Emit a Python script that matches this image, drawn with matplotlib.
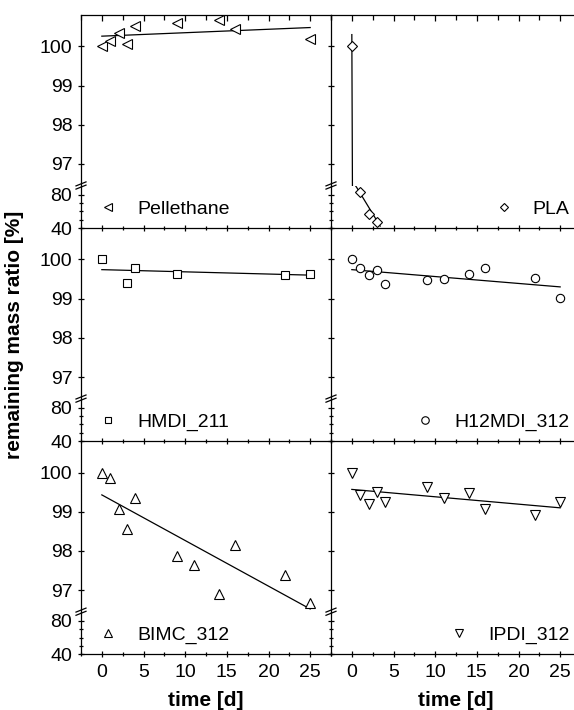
import matplotlib.pyplot as plt
import numpy as np
from matplotlib.lines import Line2D
from matplotlib.ticker import FixedLocator, MultipleLocator

plt.rcParams["font.family"] = ["Liberation Sans", "DejaVu Sans"]

# remaining mass ratio [%] over time [d]
pellethane_t = [0, 1, 2, 3, 4, 9, 14, 16, 25]
pellethane_m = [100.0, 100.13, 100.34, 100.06, 100.53, 100.6, 100.68, 100.45, 100.19]
pellethane_fit_t = [0, 25]
pellethane_fit_m = [100.26, 100.48]

pla_t = [0, 1, 2, 3]
pla_m = [100.0, 83.5, 57.0, 47.0]
pla_fit_t = [0, 0.08, 0.6, 3.4]
pla_fit_m = [100.3, 96.0, 88.4, 42.4]

hmdi_t = [0, 3, 4, 9, 22, 25]
hmdi_m = [100.0, 99.40, 99.77, 99.64, 99.60, 99.64]
hmdi_fit_t = [0, 25]
hmdi_fit_m = [99.74, 99.60]

h12mdi_t = [0, 1, 2, 3, 4, 9, 11, 14, 16, 22, 25]
h12mdi_m = [100.0, 99.77, 99.60, 99.74, 99.37, 99.47, 99.49, 99.63, 99.77, 99.52, 99.02]
h12mdi_fit_t = [0, 25]
h12mdi_fit_m = [99.74, 99.30]

bimc_t = [0, 1, 2, 3, 4, 9, 11, 14, 16, 22, 25]
bimc_m = [100.0, 99.85, 99.06, 98.55, 99.36, 97.88, 97.64, 96.90, 98.14, 97.39, 96.67]
bimc_fit_t = [0, 25]
bimc_fit_m = [99.43, 96.52]

ipdi_t = [0, 1, 2, 3, 4, 9, 11, 14, 16, 22, 25]
ipdi_m = [100.0, 99.44, 99.19, 99.51, 99.25, 99.62, 99.36, 99.49, 99.08, 98.91, 99.25]
ipdi_fit_t = [0, 25]
ipdi_fit_m = [99.57, 99.10]

panels = [
    ("Pellethane", "<", 7, pellethane_t, pellethane_m, pellethane_fit_t, pellethane_fit_m),
    ("PLA", "D", 5, pla_t, pla_m, pla_fit_t, pla_fit_m),
    ("HMDI_211", "s", 5.5, hmdi_t, hmdi_m, hmdi_fit_t, hmdi_fit_m),
    ("H12MDI_312", "o", 6, h12mdi_t, h12mdi_m, h12mdi_fit_t, h12mdi_fit_m),
    ("BIMC_312", "^", 7, bimc_t, bimc_m, bimc_fit_t, bimc_fit_m),
    ("IPDI_312", "v", 7, ipdi_t, ipdi_m, ipdi_fit_t, ipdi_fit_m),
]

W, H = 574, 710
FS = 14
LABEL_FS = 15
LEFT, COL_W = 81, 250
TOP, PANEL_H, UPPER_H = 15, 213.1, 170.5
LOWER_H = PANEL_H - UPPER_H
SPLIT = 92  # values above this go to the upper part of the broken axis

fig = plt.figure(figsize=(W / 100, H / 100), dpi=100)


def break_marks(x_px, y_px):
    for off in (-1.6, 1.6):
        fig.add_artist(Line2D(
            [(x_px - 5) / W, (x_px + 5) / W],
            [1 - (y_px + off + 2) / H, 1 - (y_px + off - 2) / H],
            transform=fig.transFigure, color="black", lw=0.9))


for i, (name, marker, ms, t, m, ft, fm) in enumerate(panels):
    row, col = divmod(i, 2)
    x0 = LEFT + col * COL_W
    top = TOP + row * PANEL_H
    brk = top + UPPER_H
    bottom = top + PANEL_H

    ax_up = fig.add_axes([x0 / W, 1 - brk / H, COL_W / W, UPPER_H / H])
    ax_lo = fig.add_axes([x0 / W, 1 - bottom / H, COL_W / W, LOWER_H / H])

    t = np.asarray(t)
    m = np.asarray(m)
    high = m > SPLIT
    for ax, sel in ((ax_up, high), (ax_lo, ~high)):
        ax.patch.set_visible(False)
        ax.plot(ft, fm, color="black", lw=0.9, zorder=2)
        if sel.any():
            ax.plot(t[sel], m[sel], ls="none", marker=marker, ms=ms, mfc="white",
                    mec="black", mew=0.8, zorder=3)
        ax.set_xlim(-2.5, 27.5)
        ax.xaxis.set_major_locator(MultipleLocator(5))
        ax.xaxis.set_minor_locator(MultipleLocator(2.5))
        ax.spines["right"].set_visible(False)
        for sp in ax.spines.values():
            sp.set_linewidth(0.9)
        ax.tick_params(which="both", labelsize=FS, width=0.9, direction="inout",
                       right=False, labelleft=(col == 0))
        ax.tick_params(which="major", length=4.5)
        ax.tick_params(which="minor", length=3.5)
        ax.tick_params(axis="y", pad=4)
        ax.tick_params(axis="x", pad=5)

    ax_up.set_ylim(96.45, 100.8)
    ax_up.set_yticks([97, 98, 99, 100])
    ax_up.spines["bottom"].set_visible(False)
    ax_up.spines["top"].set_visible(row == 0)
    ax_up.tick_params(axis="x", which="both", bottom=False, labelbottom=False,
                      top=(row == 0), direction="in")

    ax_lo.set_ylim(40, 91)
    ax_lo.yaxis.set_major_locator(FixedLocator([40, 80]))
    ax_lo.yaxis.set_minor_locator(FixedLocator([50, 60, 70]))
    ax_lo.tick_params(axis="y", which="minor", length=2.5)
    ax_lo.spines["top"].set_visible(False)
    ax_lo.tick_params(axis="x", which="both", top=False, labelbottom=(row == 2))

    handle = Line2D([], [], ls="none", marker=marker, ms=ms, mfc="white",
                    mec="black", mew=0.8)
    if col == 0:
        loc, anchor = "center left", (-0.44, 63)
    else:
        loc, anchor = "center right", (26.15, 63)
    ax_lo.legend([handle], [name], loc=loc, bbox_to_anchor=anchor,
                 bbox_transform=ax_lo.transData, frameon=False, fontsize=FS,
                 handlelength=1.0, handletextpad=1.0, borderpad=0,
                 borderaxespad=0, markerscale=0.9)

    break_marks(x0, brk)

fig.text(15 / W, 1 - (TOP + 1.5 * PANEL_H) / H, "remaining mass ratio [%]",
         rotation=90, ha="center", va="center", fontsize=LABEL_FS, fontweight="bold")
for col in range(2):
    fig.text((LEFT + col * COL_W + COL_W / 2) / W, 1 - 700 / H, "time [d]",
             ha="center", va="center", fontsize=LABEL_FS, fontweight="bold")

fig.savefig("out.png", dpi=100)
